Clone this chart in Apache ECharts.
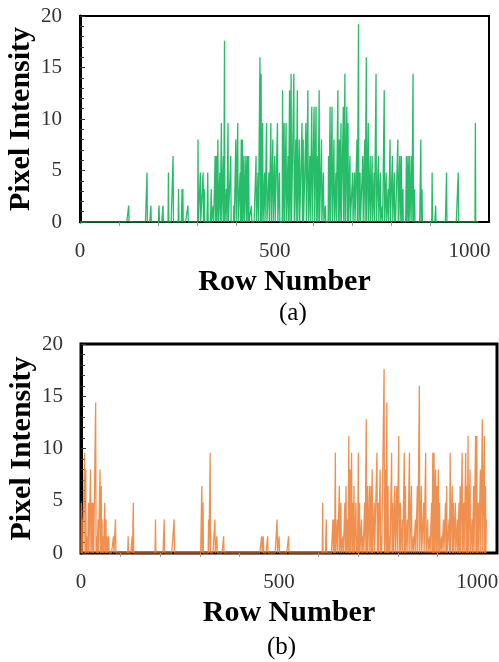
<!DOCTYPE html>
<html>
<head>
<meta charset="utf-8">
<script src="https://cdn.jsdelivr.net/npm/echarts@6/dist/echarts.min.js"></script>
<style>
  html, body { margin: 0; padding: 0; background: #fff; }
  #chart { width: 499px; height: 662px; }
</style>
</head>
<body>
<div id="chart"></div>
<script>
// Number of image rows in each intensity profile
var rowCount = 1024;

// Profile (a): rows with non-zero intensity and their values
var rowsA = [125, 172, 182, 203, 213, 227, 239, 253, 262, 264, 277,
  303, 309, 316, 319, 328, 337, 342, 347, 350, 354, 359, 363, 368, 371, 376, 380, 387, 395,
  400, 405, 411, 414, 417, 421, 426, 430, 433, 440, 452, 457, 462, 465, 469, 474, 479, 485,
  490, 495, 500, 507, 512, 520, 524, 529, 534, 538, 542, 549, 554, 558, 563, 570, 573, 580,
  585, 590, 595, 601, 606, 610, 614, 620, 625, 630, 638, 642, 647, 652, 657, 662, 666, 670,
  676, 680, 685, 688, 693, 700, 705, 711, 715, 719, 726, 731, 735, 740, 745, 750, 755, 760,
  766, 771, 776, 781, 786, 791, 796, 802, 807, 809, 816, 821, 825, 829, 838, 842, 846, 851,
  855, 859, 875, 878, 904, 913, 941, 971, 1015];
var valsA = [1.6, 4.8, 1.6, 1.6, 1.6, 4.8, 6.4, 3.2, 3.2, 3.2, 1.6,
  8, 4.8, 4.8, 3.2, 4.8, 3.2, 1.6, 6.4, 6.4, 8, 4.8, 9.6, 6.4, 17.6, 3.2, 9.6, 6.4, 1.6,
  8, 9.6, 4.8, 8, 8, 6.4, 6.4, 6.4, 6.4, 1.6, 6.4, 4.8, 16, 14.4, 9.6, 4.8, 9.6, 4.8,
  9.6, 8, 6.4, 9.6, 4.8, 12.8, 9.6, 9.6, 6.4, 12.8, 14.4, 14.4, 8, 12.8, 8, 9.6, 8, 9.6,
  12.8, 6.4, 11.2, 11.2, 11.2, 6.4, 12.8, 8, 4.8, 1.6, 6.4, 11.2, 11.2, 8, 4.8, 12.8, 8, 9.6,
  11.2, 14.4, 11.2, 9.6, 6.4, 4.8, 4.8, 8, 19.2, 4.8, 6.4, 8, 16, 9.6, 6.4, 6.4, 4.8, 14.4,
  6.4, 4.8, 1.6, 12.8, 4.8, 3.2, 8, 6.4, 4.8, 1.6, 8, 6.4, 6.4, 3.2, 6.4, 6.4, 6.4, 6.4,
  14.4, 3.2, 8, 3.2, 4.8, 1.6, 4.8, 4.8, 9.6];

// Profile (b): rows with non-zero intensity and their values
var rowsB = [1, 3, 9, 12, 16, 19, 24, 28, 31, 37, 40, 43, 48, 51, 53, 56, 60, 63, 66, 70,
  82, 87, 119, 129, 132, 188, 210, 235, 305, 308, 322, 326, 338, 343, 360, 456, 460, 471,
  495, 500, 524, 610, 619,
  636, 639, 642, 647, 652, 656, 661, 666, 669, 673, 676, 679, 683, 686, 689, 694, 697, 700,
  703, 708, 711, 716, 720, 723, 728, 732, 735, 740, 747, 750, 755, 758, 765, 769, 772, 775,
  779, 784, 787, 792, 797, 802, 806, 811, 816, 819, 824, 829, 834, 839, 844, 849, 854, 859,
  865, 870, 875, 880, 885, 888, 891, 895, 898, 902, 905, 910, 915, 920, 923, 929, 932, 937,
  940, 945, 950, 954, 957, 962, 966, 971, 974, 977, 982, 987, 991, 996, 999, 1003, 1008,
  1013, 1018, 1021, 1023];
var valsB = [4.8, 3.2, 9.6, 8, 1.6, 4.8, 8, 4.8, 4.8, 14.4, 1.6, 3.2, 8, 6.4, 3.2, 1.6, 4.8, 3.2, 1.6, 1.6,
  1.6, 3.2, 1.6, 1.6, 4.8, 3.2, 3.2, 3.2, 6.4, 4.8, 3.2, 9.6, 3.2, 1.6, 1.6, 1.6, 1.6, 1.6,
  3.2, 1.6, 1.6, 4.8, 3.2,
  3.2, 3.2, 9.6, 3.2, 6.4, 4.8, 1.6, 4.8, 6.4, 3.2, 11.2, 8, 9.6, 4.8, 6.4, 4.8, 1.6, 9.6,
  4.8, 3.2, 1.6, 4.8, 12.8, 6.4, 6.4, 6.4, 8, 4.8, 9.6, 4.8, 8, 1.6, 17.6, 8, 14.4, 6.4,
  1.6, 9.6, 4.8, 6.4, 6.4, 11.2, 4.8, 3.2, 9.6, 6.4, 3.2, 9.6, 6.4, 1.6, 3.2, 6.4, 16, 6.4,
  4.8, 9.6, 3.2, 1.6, 4.8, 9.6, 9.6, 8, 6.4, 8, 4.8, 1.6, 3.2, 4.8, 6.4, 3.2, 9.6, 6.4,
  4.8, 4.8, 3.2, 4.8, 6.4, 9.6, 4.8, 9.6, 6.4, 11.2, 8, 3.2, 6.4, 11.2, 11.2, 4.8, 8,
  12.8, 11.2, 6.4, 3.2];

// Axis settings shared by both panels
var xMin = 0, xMax = 1050, xStep = 500;
var yMin = 0, yMax = 20, yStep = 5;

// Expand a sparse list of non-zero rows into a full row-by-row profile
function buildProfile(rows, vals) {
  var out = [];
  var lookup = {};
  for (var i = 0; i < rows.length; i++) lookup[rows[i]] = vals[i];
  for (var r = 0; r < rowCount; r++) {
    out.push([r, lookup.hasOwnProperty(r) ? lookup[r] : 0]);
  }
  return out;
}

var serif = '"Liberation Serif", "Times New Roman", serif';

function xAxisFor(gridIndex) {
  return {
    type: 'value', gridIndex: gridIndex,
    min: xMin, max: xMax, interval: xStep,
    name: 'Row Number', nameLocation: 'middle', nameGap: 45,
    nameTextStyle: { fontFamily: serif, fontSize: 30, fontWeight: 'bold', color: '#000' },
    axisLine: { show: true, lineStyle: { color: '#000', width: 2 } },
    axisTick: { show: false },
    minorTick: { show: true, splitNumber: 5, length: 4, lineStyle: { color: '#999', width: 1 } },
    axisLabel: {
      fontFamily: serif, fontSize: 21, color: '#333', margin: 19, showMaxLabel: false,
      formatter: function (v) { return v % 500 === 0 ? String(v) : ''; }
    },
    splitLine: { show: false }, minorSplitLine: { show: false }
  };
}

function yAxisFor(gridIndex) {
  return {
    type: 'value', gridIndex: gridIndex,
    min: yMin, max: yMax, interval: yStep,
    name: 'Pixel Intensity', nameLocation: 'middle', nameGap: 44, nameMoveOverlap: false,
    nameTextStyle: { fontFamily: serif, fontSize: 30, fontWeight: 'bold', color: '#000' },
    axisLine: { show: true, lineStyle: { color: '#000', width: 3 } },
    axisTick: { show: true, inside: true, length: 5, lineStyle: { color: '#333', width: 1 } },
    minorTick: { show: true, splitNumber: 5, length: 4, lineStyle: { color: '#333', width: 1 } },
    axisLabel: { fontFamily: serif, fontSize: 21, color: '#333', margin: 18 },
    splitLine: { show: false }, minorSplitLine: { show: false }
  };
}

function profileSeries(idx, rows, vals, color) {
  return {
    type: 'line', xAxisIndex: idx, yAxisIndex: idx,
    data: buildProfile(rows, vals),
    showSymbol: false, symbol: 'none',
    lineStyle: { color: color, width: 1.3, opacity: 0.85 },
    clip: true, z: 3
  };
}

var chart = echarts.init(document.getElementById('chart'), null, { renderer: 'canvas' });
chart.setOption({
  animation: false,
  backgroundColor: '#fff',
  grid: [
    { left: 80, top: 16, width: 409, height: 206, containLabel: false, outerBoundsMode: 'none',
      show: true, borderColor: '#000', borderWidth: 2, backgroundColor: 'transparent' },
    { left: 81, top: 344, width: 416, height: 209, containLabel: false, outerBoundsMode: 'none',
      show: true, borderColor: '#000', borderWidth: 3, backgroundColor: 'transparent' }
  ],
  xAxis: [xAxisFor(0), xAxisFor(1)],
  yAxis: [yAxisFor(0), yAxisFor(1)],
  series: [
    profileSeries(0, rowsA, valsA, '#00B050'),
    profileSeries(1, rowsB, valsB, '#ED7D31')
  ],
  graphic: [
    { type: 'text', left: 279, top: 301, style: { text: '(a)', font: '25px ' + serif, fill: '#000' } },
    { type: 'text', left: 267, top: 635, style: { text: '(b)', font: '25px ' + serif, fill: '#000' } }
  ]
});
</script>
</body>
</html>
